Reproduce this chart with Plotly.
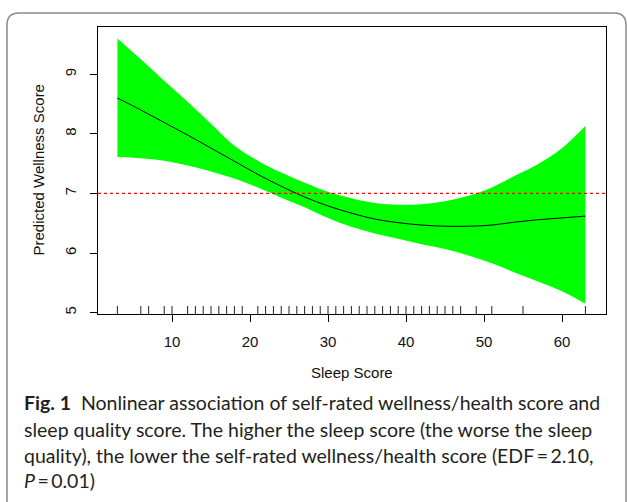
import plotly.graph_objects as go

# ---- data ----
sleep_x = [3, 6, 9, 12, 15, 18, 21, 24, 27, 30, 33, 36, 39, 42, 45, 48, 51, 54, 57, 60, 63]
fit_y = [8.60, 8.40, 8.19, 7.98, 7.76, 7.54, 7.32, 7.12, 6.94, 6.79, 6.67, 6.57, 6.51, 6.47,
         6.45, 6.45, 6.47, 6.52, 6.56, 6.59, 6.62]
upper_y = [9.60, 9.25, 8.89, 8.54, 8.17, 7.80, 7.55, 7.35, 7.18, 7.03, 6.92, 6.84, 6.81, 6.82,
           6.87, 6.96, 7.10, 7.30, 7.50, 7.76, 8.13]
lower_y = [7.61, 7.59, 7.55, 7.47, 7.37, 7.25, 7.10, 6.93, 6.77, 6.59, 6.44, 6.33, 6.24, 6.15,
           6.07, 5.96, 5.83, 5.67, 5.52, 5.36, 5.15]
rug_x = [3, 6, 7, 9, 10] + list(range(12, 20)) + list(range(21, 48)) + [49, 51, 55, 63]
ref_y = 7
x_ticks = [10, 20, 30, 40, 50, 60]
y_ticks = [5, 6, 7, 8, 9]
x_title = "Sleep Score"
y_title = "Predicted Wellness Score"
caption_lines = [
    "<b>Fig. 1</b>  Nonlinear association of self-rated wellness/health score and",
    "sleep quality score. The higher the sleep score (the worse the sleep",
    "quality), the lower the self-rated wellness/health score (EDF\u2009=\u20092.10,",
    "<i>P</i>\u2009=\u20090.01)",
]

# ---- layout geometry (pixels) ----
W, H = 627, 502
L, R, T, B = 98, 21, 27, 188
PW, PH = W - L - R, H - T - B


def px(xp):
    return (xp - L) / PW


def py(yp):
    return (H - B - yp) / PH


fig = go.Figure()
fig.add_trace(go.Scatter(x=sleep_x, y=lower_y, mode="lines", line=dict(width=0, color="#00FF00", shape="spline"),
                         showlegend=False, hoverinfo="skip"))
fig.add_trace(go.Scatter(x=sleep_x, y=upper_y, mode="lines", line=dict(width=0, color="#00FF00", shape="spline"),
                         fill="tonexty", fillcolor="#00FF00", showlegend=False, hoverinfo="skip"))
fig.add_trace(go.Scatter(x=sleep_x, y=fit_y, mode="lines", line=dict(width=1, color="black", shape="spline"),
                         showlegend=False))

# reference line
fig.add_shape(type="line", xref="paper", yref="y", x0=0, x1=1, y0=ref_y, y1=ref_y, layer="above",
              line=dict(color="red", width=1.3, dash="dot"))

# rug
for v in rug_x:
    fig.add_shape(type="line", xref="x", yref="paper", ysizemode="pixel", yanchor=0,
                  x0=v, x1=v, y0=0, y1=8, line=dict(color="#222", width=1))

# outer rounded frame
x0, x1, y0, y1, r = 7, 626, 13, 520, 12
path = (f"M {px(x0)},{py(y1)} L {px(x0)},{py(y0 + r)} Q {px(x0)},{py(y0)} {px(x0 + r)},{py(y0)} "
        f"L {px(x1 - r)},{py(y0)} Q {px(x1)},{py(y0)} {px(x1)},{py(y0 + r)} L {px(x1)},{py(y1)}")
fig.add_shape(type="path", xref="paper", yref="paper", path=path, line=dict(color="#8a8a8a", width=1.5))

axis_font = dict(family="Liberation Sans, Arial, sans-serif", size=15, color="#111")

fig.update_xaxes(range=[0.51, 65.64], tickvals=x_ticks, ticks="outside", ticklen=7, tickcolor="black",
                 showline=True, linecolor="black", linewidth=1, mirror=True, showgrid=False, zeroline=False,
                 tickfont=axis_font, ticklabelstandoff=7)
fig.update_yaxes(range=[4.978, 9.792], tickvals=y_ticks, ticks="outside", ticklen=7, tickcolor="black",
                 showline=True, linecolor="black", linewidth=1, mirror=True, showgrid=False, zeroline=False,
                 tickfont=axis_font, tickangle=-90, ticklabelstandoff=8)

annotations = [
    dict(text=x_title, xref="paper", yref="paper", x=px((L + W - R) / 2), y=py(372), xanchor="center",
         yanchor="middle", showarrow=False, font=axis_font),
    dict(text=y_title, xref="paper", yref="paper", x=px(38), y=py((T + H - B) / 2), xanchor="center",
         yanchor="middle", textangle=-90, showarrow=False, font=axis_font),
]
cap_font = dict(family="Lato, Noto Sans, sans-serif", size=19.5, color="#231f20")
for i, line in enumerate(caption_lines):
    annotations.append(dict(text=line, xref="paper", yref="paper", x=px(22), y=py(403 + 26 * i),
                            xanchor="left", yanchor="middle", showarrow=False, font=cap_font))

fig.update_layout(width=W, height=H, margin=dict(l=L, r=R, t=T, b=B, autoexpand=False),
                  plot_bgcolor="white", paper_bgcolor="white", annotations=annotations, showlegend=False)

fig.write_html("out.html", config={"displayModeBar": False},
               post_script="document.body.style.margin='0';document.body.style.overflow='hidden';")
